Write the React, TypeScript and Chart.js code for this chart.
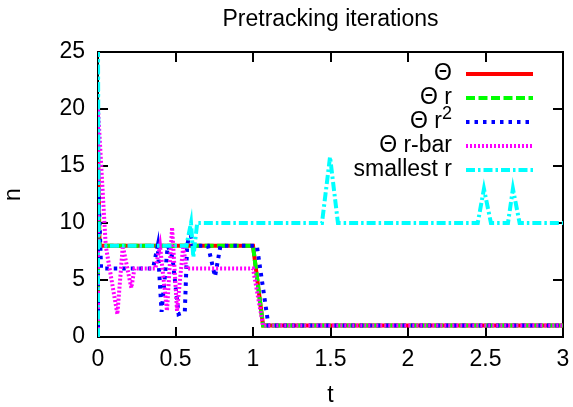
import React, { useEffect, useRef } from 'react';
import { Chart, registerables } from 'chart.js';

Chart.register(...registerables);

const TITLE = 'Pretracking iterations';
const X_LABEL = 't';
const Y_LABEL = 'n';
const X_TICKS = [0, 0.5, 1, 1.5, 2, 2.5, 3];
const Y_TICKS = [0, 5, 10, 15, 20, 25];

// Θ
const thetaT = [0, 0, 0.01, 1.0, 1.065, 3];
const thetaN = [0, 17, 8, 8, 1, 1];
// Θ r
const thetaRT = [0, 0, 0.01, 1.0, 1.065, 3];
const thetaRN = [0, 12, 8, 8, 1, 1];
// Θ r²
const thetaR2T = [0, 0, 0.02, 0.355, 0.385, 0.41, 0.45, 0.48, 0.52, 0.56, 0.575, 0.595, 0.61, 0.71, 0.755, 0.79, 1.025, 1.1, 3];
const thetaR2N = [0, 14, 6, 6, 8, 2.2, 8, 7, 2, 2.2, 8, 9.3, 8, 8, 5.3, 8, 8, 1, 1];
// Θ r-bar
const thetaRbarT = [0, 0, 0.05, 0.125, 0.16, 0.215, 0.235, 0.37, 0.40, 0.445, 0.478, 0.51, 0.55, 0.57, 1.0, 1.065, 3];
const thetaRbarN = [0, 20, 8, 2, 8, 4.3, 6, 6, 8, 2.3, 9.6, 2.3, 8, 6, 6, 1, 1];
// smallest r
const smallestRT = [0, 0, 0.005, 0.57, 0.6, 0.615, 0.64, 1.445, 1.497, 1.548, 2.45, 2.49, 2.535, 2.645, 2.677, 2.72, 3];
const smallestRN = [0, 25, 8, 8, 10, 7, 10, 10, 15.8, 10, 10, 13, 10, 10, 13, 10, 10];

const FONT = 'Liberation Sans, Arial, Helvetica, sans-serif';
const FS = 23;

const toXY = (t: number[], n: number[]) => t.map((v, i) => ({ x: v, y: n[i] }));

const framePlugin = {
  id: 'gnuFrame',
  beforeDatasetsDraw(chart: any) {
    const { ctx, chartArea } = chart;
    const { left, right, top, bottom } = chartArea;
    const xs = chart.scales.x;
    const ys = chart.scales.y;
    ctx.save();
    ctx.strokeStyle = '#000';
    ctx.lineWidth = 2;
    ctx.strokeRect(left, top, right - left, bottom - top);
    const L = 10;
    ctx.beginPath();
    X_TICKS.forEach((v) => {
      const px = Math.round(xs.getPixelForValue(v));
      ctx.moveTo(px, bottom);
      ctx.lineTo(px, bottom - L);
      ctx.moveTo(px, top);
      ctx.lineTo(px, top + L);
    });
    Y_TICKS.forEach((v) => {
      const py = Math.round(ys.getPixelForValue(v));
      ctx.moveTo(left, py);
      ctx.lineTo(left + L, py);
      ctx.moveTo(right, py);
      ctx.lineTo(right - L, py);
    });
    ctx.stroke();
    // title
    ctx.fillStyle = '#000';
    ctx.font = `${FS}px ${FONT}`;
    ctx.textAlign = 'center';
    ctx.textBaseline = 'middle';
    ctx.fillText(TITLE, (left + right) / 2, 20);
    ctx.restore();
  },
  afterDatasetsDraw(chart: any) {
    const { ctx, chartArea } = chart;
    const { right, top } = chartArea;
    ctx.save();
    chart.data.datasets.forEach((ds: any, i: number) => {
      const y = top + 22 + i * 24;
      const tx = right - 111;
      ctx.fillStyle = '#000';
      ctx.textBaseline = 'middle';
      const label: string = ds.label;
      if (label.endsWith('²')) {
        const base = label.slice(0, -1);
        ctx.font = `${Math.round(FS * 0.8)}px ${FONT}`;
        ctx.textAlign = 'right';
        ctx.fillText('2', tx, y - 8);
        const w = ctx.measureText('2').width;
        ctx.font = `${FS}px ${FONT}`;
        ctx.fillText(base, tx - w, y);
      } else {
        ctx.font = `${FS}px ${FONT}`;
        ctx.textAlign = 'right';
        ctx.fillText(label, tx, y);
      }
      ctx.strokeStyle = ds.borderColor;
      ctx.lineWidth = ds.borderWidth;
      ctx.setLineDash(ds.borderDash || []);
      ctx.lineCap = 'butt';
      ctx.beginPath();
      ctx.moveTo(right - 97, y);
      ctx.lineTo(right - 30, y);
      ctx.stroke();
    });
    ctx.restore();
  },
};

export default function App() {
  const ref = useRef<HTMLCanvasElement>(null);
  useEffect(() => {
    if (!ref.current) return;
    const common = { pointRadius: 0, fill: false, tension: 0, borderWidth: 4 };
    const chart = new Chart(ref.current, {
      type: 'line',
      data: {
        datasets: [
          { ...common, label: 'Θ', data: toXY(thetaT, thetaN), borderColor: '#ff0000', borderDash: [], order: 5 },
          { ...common, label: 'Θ r', data: toXY(thetaRT, thetaRN), borderColor: '#00ff00', borderDash: [9, 3.5], order: 4 },
          { ...common, label: 'Θ r²', data: toXY(thetaR2T, thetaR2N), borderColor: '#0000ff', borderDash: [3.5, 5], order: 3 },
          { ...common, label: 'Θ r-bar', data: toXY(thetaRbarT, thetaRbarN), borderColor: '#ff00ff', borderDash: [2, 2], order: 2 },
          { ...common, label: 'smallest r', data: toXY(smallestRT, smallestRN), borderColor: '#00ffff', borderDash: [9, 3, 2.5, 3], order: 1 },
        ],
      } as any,
      options: {
        animation: false,
        responsive: false,
        maintainAspectRatio: false,
        layout: { padding: { left: 0, right: 10, top: 52, bottom: 0 } },
        plugins: {
          legend: { display: false },
          tooltip: { enabled: false },
          title: { display: false, text: TITLE },
        },
        scales: {
          x: {
            type: 'linear',
            min: 0,
            max: 3,
            grid: { display: false, drawTicks: false },
            border: { display: false },
            ticks: {
              stepSize: 0.5,
              color: '#000',
              font: { family: FONT, size: FS },
              padding: 9,
              maxRotation: 0,
              callback: (v: any) => String(Number(v)),
            },
            title: { display: true, text: X_LABEL, color: '#000', font: { family: FONT, size: FS }, padding: { top: 0, bottom: -2 } },
            afterFit: (s: any) => { s.height = 70; s.paddingRight = 0; s.paddingLeft = 0; },
          },
          y: {
            type: 'linear',
            min: 0,
            max: 25,
            grid: { display: false, drawTicks: false },
            border: { display: false },
            ticks: { stepSize: 5, color: '#000', font: { family: FONT, size: FS }, padding: 13 },
            title: { display: true, text: Y_LABEL, color: '#000', font: { family: FONT, size: FS }, padding: 0 },
            afterFit: (s: any) => { s.width = 98; },
          },
        },
      } as any,
      plugins: [framePlugin],
    });
    return () => chart.destroy();
  }, []);
  return (
    <div style={{ position: 'fixed', left: 0, top: 0, width: 573, height: 407, background: '#fff' }}>
      <canvas ref={ref} width={573} height={407} style={{ display: 'block' }} />
    </div>
  );
}
